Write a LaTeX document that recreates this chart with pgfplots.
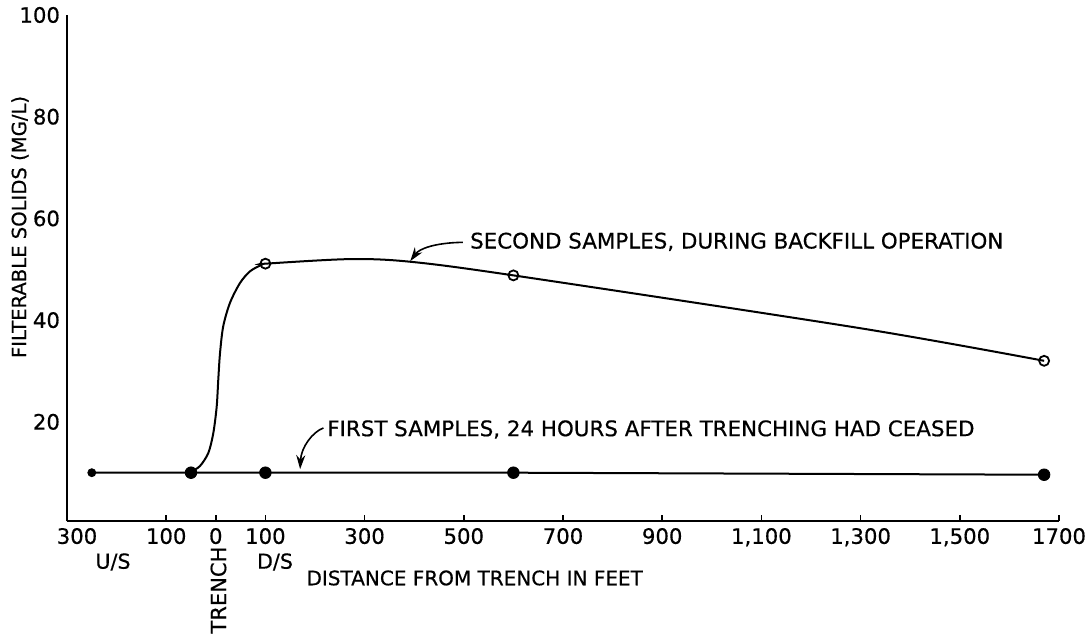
\documentclass[border=0pt]{standalone}
\usepackage{fontspec}
\setmainfont{DejaVu Sans}[FakeBold=0.5]
\usepackage{pgfplots}
\pgfplotsset{compat=1.18}
\usetikzlibrary{arrows.meta}
\begin{document}
\begin{tikzpicture}
\begin{axis}[
  at={(0,0)}, anchor=south west,
  scale only axis, width=496pt, height=253pt,
  xmin=-300, xmax=1700, ymin=0.5, ymax=100,
  axis lines=left, axis line style={-, line width=1pt},
  xtick={-300,-100,0,100,300,500,700,900,1100,1300,1500,1700},
  xticklabels={{\hspace{10pt}300},100,0,100,300,500,700,900,{1,100},{1,300},{1,500},1700},
  ytick={20,40,60,80,100},
  yticklabels={20,40,60,80,100},
  tick label style={font=\fontsize{10.6}{10.6}\selectfont},
  x tick style={line width=0.8pt, black},
  major tick length=3pt, tick align=inside,
  y tick style={draw=none},
  clip=false,
]
% first samples
\addplot[black, line width=1pt] coordinates {(-250,10) (-50,10) (100,10) (600,10) (1670,9.6)};
\addplot[only marks, mark=*, mark size=2.9pt, black] coordinates {(-50,10) (100,10) (600,10) (1670,9.6)};
\addplot[only marks, mark=*, mark size=2pt, black] coordinates {(-250,10)};
% second samples
\addplot[black, line width=1pt, smooth, tension=0.5] coordinates {
 (-50,10.2) (-32,11.3) (-15,13.9) (-5,17.8) (1.8,23.0) (5,28.3) (8.5,33.5) (15,38.8)
 (28.6,43.4) (48.8,47.3) (69,49.6) (92.5,50.9) (100,51.1) (270,52.0) (390,51.5)
 (600,48.8) (1300,38.4) (1670,32.0)};
\addplot[only marks, mark=o, mark size=2.5pt, line width=0.9pt, black, fill=white] coordinates {(100,51.1) (600,48.8) (1670,32.0)};
% annotations
\draw[line width=0.8pt, -{Stealth[length=7pt,width=4.5pt]}] (axis cs:498,55.3) .. controls (axis cs:440,55.2) and (axis cs:410,54) .. (axis cs:392,51.6);
\draw[line width=0.8pt, -{Stealth[length=7pt,width=4.5pt]}] (axis cs:217,18.8) .. controls (axis cs:195,18) and (axis cs:172,15) .. (axis cs:170,10.7);
\node[anchor=west, inner sep=0pt, font=\fontsize{10.7}{10.7}\selectfont] at (axis cs:512,55.4) {SECOND SAMPLES, DURING BACKFILL OPERATION};
\node[anchor=west, inner sep=0pt, font=\fontsize{10.7}{10.7}\selectfont] at (axis cs:224,18.5) {FIRST SAMPLES, 24 HOURS AFTER TRENCHING HAD CEASED};
% axis labels
\node[rotate=90, anchor=center, inner sep=0pt, font=\fontsize{9.8}{9.8}\selectfont] at (axis description cs:-0.0474,0.581) {FILTERABLE SOLIDS (MG/L)};
\node[anchor=center, inner sep=0pt, font=\fontsize{10}{10}\selectfont] at (axis description cs:0.411,-0.1126) {DISTANCE FROM TRENCH IN FEET};
\node[anchor=center, inner sep=0pt, font=\fontsize{10.3}{10.3}\selectfont] at (axis description cs:0.0464,-0.081) {U/S};
\node[anchor=center, inner sep=0pt, font=\fontsize{10.3}{10.3}\selectfont] at (axis description cs:0.2097,-0.081) {D/S};
\node[rotate=90, anchor=center, inner sep=0pt, font=\fontsize{10.5}{10.5}\selectfont] at (axis description cs:0.1527,-0.1364) {TRENCH};
\end{axis}
\pgfresetboundingbox
\useasboundingbox (-33.5pt,-56pt) rectangle (512pt,260.5pt);
\end{tikzpicture}
\end{document}
